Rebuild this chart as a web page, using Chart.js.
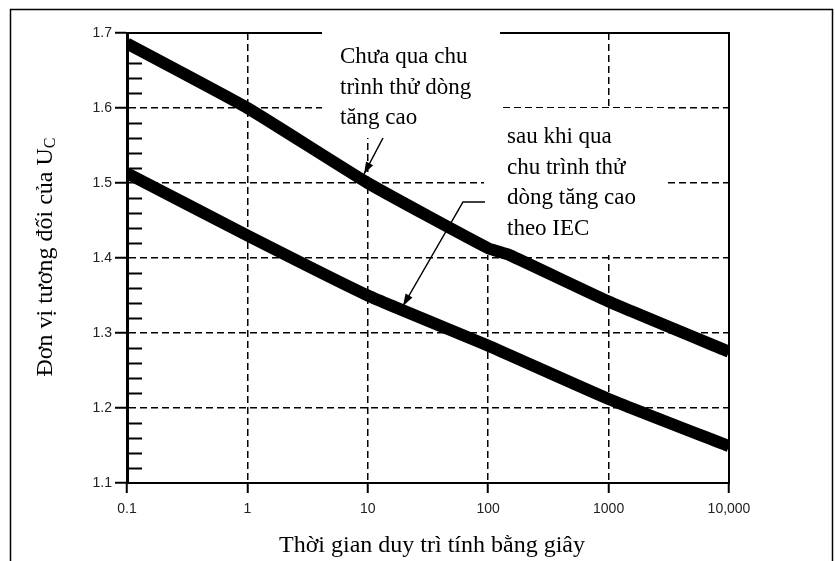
<!DOCTYPE html>
<html>
<head>
<meta charset="utf-8">
<script src="https://cdn.jsdelivr.net/npm/chart.js@4.4.1/dist/chart.umd.min.js"></script>
<style>
  html, body { margin: 0; padding: 0; background: #fff; }
  canvas { display: block; }
</style>
</head>
<body>
<canvas id="chart" width="835" height="561"></canvas>
<script>
// data
const timeTicks = [0.1, 1, 10, 100, 1000, 10000];
const timeTickLabels = ['0.1', '1', '10', '100', '1000', '10,000'];
const valueTicks = [1.1, 1.2, 1.3, 1.4, 1.5, 1.6, 1.7];
const valueTickLabels = ['1.1', '1.2', '1.3', '1.4', '1.5', '1.6', '1.7'];

const beforeTimes = [0.1, 1, 10, 100, 150, 1000, 10000];
const beforeValues = [1.686, 1.600, 1.500, 1.413, 1.404, 1.342, 1.275];
const afterTimes = [0.1, 1, 10, 100, 1000, 10000];
const afterValues = [1.513, 1.430, 1.350, 1.283, 1.212, 1.149];

const serif = '"Liberation Serif", "DejaVu Serif", serif';

Chart.defaults.font.family = '"Liberation Sans", Arial, sans-serif';
Chart.defaults.color = '#222';

function drawArrow(ctx, pts) {
  ctx.beginPath();
  ctx.moveTo(pts[0][0], pts[0][1]);
  for (let i = 1; i < pts.length; i++) ctx.lineTo(pts[i][0], pts[i][1]);
  ctx.stroke();
  const [x1, y1] = pts[pts.length - 2];
  const [x2, y2] = pts[pts.length - 1];
  const a = Math.atan2(y2 - y1, x2 - x1);
  ctx.beginPath();
  ctx.moveTo(x2, y2);
  ctx.lineTo(x2 - 12 * Math.cos(a) + 4 * Math.sin(a), y2 - 12 * Math.sin(a) - 4 * Math.cos(a));
  ctx.lineTo(x2 - 12 * Math.cos(a) - 4 * Math.sin(a), y2 - 12 * Math.sin(a) + 4 * Math.cos(a));
  ctx.closePath();
  ctx.fill();
}

const decor = {
  id: 'decor',
  beforeDatasetsDraw(c) {
    const { ctx, chartArea: a, scales: { y } } = c;
    ctx.save();
    ctx.strokeStyle = '#000';
    // small inner ticks on the value axis
    ctx.lineWidth = 2;
    for (let k = 56; k < 85; k++) {
      if (k % 5 === 0) continue;
      const py = Math.round(y.getPixelForValue(k / 50)) + 0.5;
      ctx.beginPath();
      ctx.moveTo(a.left, py);
      ctx.lineTo(a.left + 15, py);
      ctx.stroke();
    }
    // plot frame
    ctx.lineWidth = 2;
    ctx.strokeRect(a.left, a.top, a.width, a.height);
    // white boxes behind the notes
    ctx.fillStyle = '#fff';
    ctx.fillRect(322, 24, 178, 114);
    ctx.fillRect(484, 108, 183, 147);
    // notes
    ctx.fillStyle = '#000';
    ctx.font = '23px ' + serif;
    ctx.textBaseline = 'middle';
    ctx.textAlign = 'left';
    ['Chưa qua chu', 'trình thử dòng', 'tăng cao'].forEach((t, i) => ctx.fillText(t, 340, 57 + i * 30.5));
    ['sau khi qua', 'chu trình thử', 'dòng tăng cao', 'theo IEC'].forEach((t, i) => ctx.fillText(t, 507, 137 + i * 30.5));
    ctx.restore();
  },
  afterDatasetsDraw(c) {
    const { ctx } = c;
    ctx.save();
    ctx.strokeStyle = '#000';
    ctx.fillStyle = '#000';
    ctx.lineWidth = 1.5;
    drawArrow(ctx, [[383, 138], [364, 174]]);
    drawArrow(ctx, [[485, 202], [463, 202], [403, 306]]);
    ctx.restore();
  },
  afterDraw(c) {
    const { ctx } = c;
    ctx.save();
    ctx.strokeStyle = '#000';
    ctx.lineWidth = 1.5;
    ctx.strokeRect(10.5, 9.5, 822, 560);
    ctx.fillStyle = '#000';
    ctx.textBaseline = 'middle';
    // x title
    ctx.font = '24px ' + serif;
    ctx.textAlign = 'center';
    ctx.fillText('Thời gian duy trì tính bằng giây', 432, 546);
    // y title with subscript
    const main = 'Đơn vị tương đối của U';
    ctx.font = '24px ' + serif;
    const w1 = ctx.measureText(main).width;
    ctx.font = '16px ' + serif;
    const w2 = ctx.measureText('C').width;
    ctx.translate(46, 257);
    ctx.rotate(-Math.PI / 2);
    ctx.textAlign = 'left';
    ctx.font = '24px ' + serif;
    ctx.fillText(main, -(w1 + w2) / 2, 0);
    ctx.font = '16px ' + serif;
    ctx.fillText('C', -(w1 + w2) / 2 + w1, 5);
    ctx.restore();
  }
};

const inner = (v, lo, hi) => v > lo + 1e-9 && v < hi - 1e-9;

new Chart(document.querySelector('#chart'), {
  type: 'line',
  data: {
    datasets: [
      {
        label: 'Chưa qua chu trình thử dòng tăng cao',
        data: beforeTimes.map((t, i) => ({ x: t, y: beforeValues[i] })),
        borderColor: '#000',
        borderWidth: 12,
        pointRadius: 0,
        tension: 0.15,
        clip: 0
      },
      {
        label: 'sau khi qua chu trình thử dòng tăng cao theo IEC',
        data: afterTimes.map((t, i) => ({ x: t, y: afterValues[i] })),
        borderColor: '#000',
        borderWidth: 12,
        pointRadius: 0,
        tension: 0.15,
        clip: 0
      }
    ]
  },
  options: {
    responsive: false,
    animation: false,
    devicePixelRatio: 1,
    layout: { padding: { left: 0, top: 33, right: 106, bottom: 0 } },
    plugins: { legend: { display: false }, tooltip: { enabled: false } },
    scales: {
      x: {
        type: 'logarithmic',
        min: 0.1,
        max: 10000,
        afterBuildTicks: s => { s.ticks = timeTicks.map(v => ({ value: v })); },
        afterFit: s => { s.height = 78; },
        ticks: {
          callback: (v, i) => timeTickLabels[i],
          font: { size: 14 },
          color: '#222',
          maxRotation: 0,
          autoSkip: false,
          padding: 8
        },
        grid: {
          color: ctx => (ctx.tick && inner(ctx.tick.value, 0.1, 10000)) ? '#000' : 'rgba(0,0,0,0)',
          lineWidth: 1.5,
          tickColor: '#000',
          tickWidth: 2,
          tickLength: 10
        },
        border: { display: true, color: '#000', width: 2, dash: [7, 4] }
      },
      y: {
        type: 'linear',
        min: 1.1,
        max: 1.7,
        afterBuildTicks: s => { s.ticks = valueTicks.map(v => ({ value: v })); },
        afterFit: s => { s.width = 127; },
        ticks: {
          callback: (v, i) => valueTickLabels[i],
          font: { size: 14 },
          color: '#222',
          padding: 3
        },
        grid: {
          color: ctx => (ctx.tick && inner(ctx.tick.value, 1.1, 1.7)) ? '#000' : 'rgba(0,0,0,0)',
          lineWidth: 1.5,
          tickColor: '#000',
          tickWidth: 2,
          tickLength: 12
        },
        border: { display: true, color: '#000', width: 3, dash: [7, 4] }
      }
    }
  },
  plugins: [decor]
});
</script>
</body>
</html>
